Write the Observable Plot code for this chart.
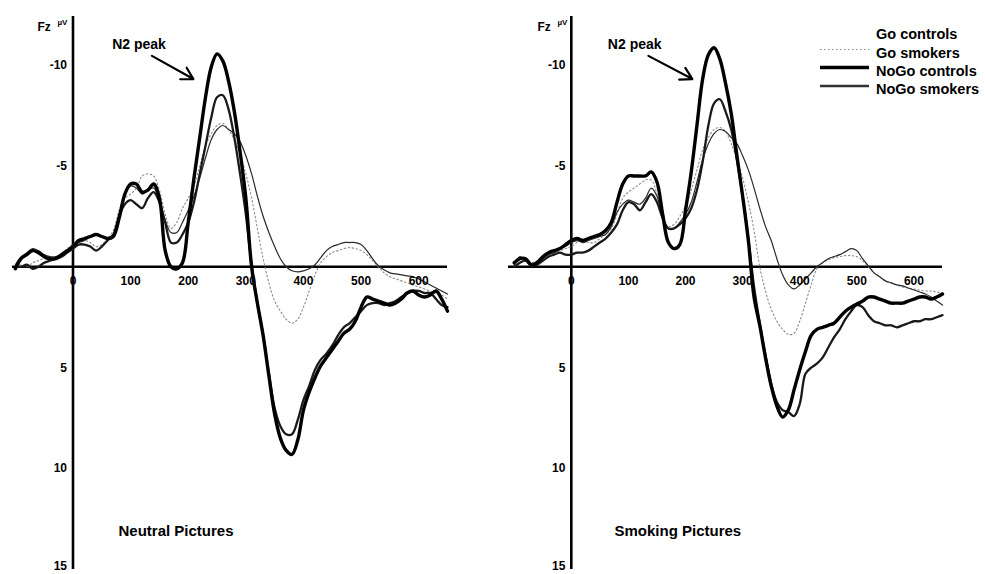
<!DOCTYPE html>
<html>
<head>
<meta charset="utf-8">
<script src="https://cdn.jsdelivr.net/npm/d3@7"></script>
<script src="https://cdn.jsdelivr.net/npm/@observablehq/plot@0.6"></script>
<style>
  html, body { margin: 0; padding: 0; background: #fff; }
  #wrap { position: relative; width: 985px; height: 574px; overflow: hidden; background: #fff; }
  #wrap > .panel { position: absolute; top: 0; }
  #legend { position: absolute; left: 0; top: 0; pointer-events: none; }
</style>
</head>
<body>
<div id="wrap"></div>
<script>
// ---------- data ----------
const seriesNames = ["Go controls", "Go smokers", "NoGo controls", "NoGo smokers"];
const panelTitles = ["Neutral Pictures", "Smoking Pictures"];
const times = [-100,-90,-80,-70,-60,-50,-40,-30,-20,-10,0,10,20,30,40,50,60,70,80,90,100,110,120,130,140,150,160,170,180,190,200,210,220,230,240,250,260,270,280,290,300,310,320,330,340,350,360,370,380,390,400,410,420,430,440,450,460,470,480,490,500,510,520,530,540,550,560,570,580,590,600,610,620,630,640,650];
const xTicks = [100, 200, 300, 400, 500, 600];
const yTicks = [-10, -5, 5, 10, 15];

// Neutral pictures (µV, negative up)
const neutralGoControls = [-0.1,-0.5,-0.7,-0.9,-0.8,-0.6,-0.5,-0.5,-0.6,-0.8,-1.1,-1.2,-1.3,-1.5,-1.6,-1.5,-1.4,-1.6,-2.6,-3.6,-4.0,-3.9,-3.6,-3.8,-3.9,-3.2,-2.3,-1.7,-1.7,-2.2,-2.8,-3.5,-4.4,-5.4,-6.3,-6.8,-7.0,-6.8,-6.6,-6.2,-5.5,-4.6,-3.5,-2.5,-1.7,-1.0,-0.4,0.0,0.2,0.25,0.2,0.1,-0.1,-0.45,-0.8,-1.0,-1.1,-1.2,-1.2,-1.2,-1.1,-0.8,-0.4,-0.05,0.15,0.3,0.35,0.4,0.45,0.5,0.6,0.75,0.9,1.05,1.2,1.35];
const neutralGoSmokers = [0.0,-0.1,0.0,-0.2,-0.3,-0.4,-0.3,-0.4,-0.6,-0.9,-1.1,-1.2,-1.3,-1.2,-1.0,-1.1,-1.4,-1.8,-2.8,-3.4,-3.6,-3.9,-4.5,-4.6,-4.5,-3.8,-2.6,-1.9,-2.2,-2.9,-3.4,-4.0,-5.0,-6.0,-6.6,-7.0,-7.1,-6.8,-6.3,-5.6,-4.6,-3.4,-1.9,-0.4,0.8,1.7,2.2,2.6,2.8,2.6,2.0,1.2,0.4,-0.2,-0.5,-0.7,-0.8,-0.9,-0.95,-0.9,-0.8,-0.6,-0.3,0.0,0.3,0.5,0.6,0.7,0.8,0.9,1.0,1.1,1.2,1.3,1.4,1.6];
const neutralNoGoControls = [0.1,-0.4,-0.6,-0.8,-0.7,-0.5,-0.4,-0.4,-0.6,-0.8,-1.0,-1.3,-1.4,-1.5,-1.6,-1.5,-1.4,-1.5,-2.4,-3.6,-4.1,-4.1,-3.7,-3.8,-4.1,-3.4,-0.8,0.0,0.1,-0.2,-2.2,-4.4,-6.4,-8.4,-9.9,-10.55,-10.2,-9.2,-7.7,-5.7,-3.4,0.0,1.8,3.4,5.4,7.3,8.5,9.1,9.3,8.6,7.1,6.2,5.5,4.9,4.5,4.1,3.7,3.3,3.1,2.7,2.0,1.5,1.6,1.7,1.8,1.9,1.8,1.6,1.3,1.2,1.4,1.5,1.4,1.2,1.6,2.2];
const neutralNoGoSmokers = [0.0,0.0,-0.1,0.1,0.0,-0.2,-0.3,-0.4,-0.5,-0.7,-0.9,-1.1,-1.1,-1.0,-0.8,-1.0,-1.3,-1.6,-2.5,-3.1,-3.3,-3.1,-2.9,-3.4,-3.7,-3.2,-2.2,-1.2,-1.2,-1.6,-2.2,-3.2,-4.6,-6.0,-7.4,-8.4,-8.5,-7.8,-6.4,-4.6,-2.6,-0.1,1.8,3.4,5.3,7.0,7.9,8.3,8.3,7.6,6.6,5.9,5.1,4.6,4.3,3.9,3.4,3.0,2.8,2.5,2.2,1.9,1.8,1.8,1.9,1.8,1.7,1.5,1.3,1.2,1.2,1.3,1.3,1.6,1.9,2.0];

// Smoking pictures
const smokingGoControls = [-0.1,-0.5,-0.3,0.0,-0.2,-0.4,-0.6,-0.7,-0.9,-1.0,-1.2,-1.3,-1.2,-1.3,-1.4,-1.5,-1.6,-2.0,-2.7,-3.1,-3.3,-3.2,-3.1,-3.4,-3.9,-3.5,-2.4,-1.9,-1.9,-2.2,-2.6,-3.2,-4.2,-5.3,-6.1,-6.6,-6.8,-6.7,-6.4,-6.1,-5.5,-4.8,-3.9,-2.9,-2.0,-1.3,-0.4,0.4,0.9,1.1,0.9,0.6,0.3,0.0,-0.2,-0.4,-0.5,-0.6,-0.75,-0.9,-0.8,-0.4,-0.05,0.3,0.5,0.7,0.8,0.9,0.95,1.05,1.15,1.25,1.35,1.5,1.7,1.9];
const smokingGoSmokers = [0.0,-0.2,-0.3,-0.2,-0.3,-0.5,-0.6,-0.7,-0.8,-0.9,-1.0,-1.2,-1.3,-1.2,-1.2,-1.4,-1.6,-1.9,-2.6,-3.4,-3.7,-3.9,-4.1,-4.3,-4.3,-3.6,-2.5,-2.0,-2.1,-2.5,-3.0,-3.8,-4.8,-5.8,-6.4,-6.8,-6.9,-6.7,-6.1,-5.3,-4.4,-3.2,-1.8,0.0,1.2,2.1,2.7,3.1,3.35,3.3,2.7,1.8,0.9,0.1,-0.2,-0.35,-0.45,-0.5,-0.55,-0.55,-0.5,-0.3,0.0,0.3,0.5,0.7,0.8,0.9,1.0,1.05,1.1,1.15,1.2,1.2,1.25,1.3];
const smokingNoGoControls = [-0.2,-0.4,-0.4,-0.1,-0.2,-0.5,-0.7,-0.8,-0.9,-1.1,-1.3,-1.4,-1.3,-1.4,-1.5,-1.6,-1.8,-2.2,-3.2,-4.1,-4.5,-4.5,-4.5,-4.5,-4.7,-4.2,-2.6,-1.2,-0.9,-1.1,-2.8,-4.7,-7.0,-9.3,-10.5,-10.85,-10.3,-9.1,-7.6,-5.5,-3.5,-1.3,1.5,2.9,4.5,5.9,6.9,7.45,7.1,6.1,5.1,4.2,3.4,3.1,3.0,2.9,2.8,2.5,2.2,2.0,1.85,1.7,1.5,1.5,1.6,1.7,1.8,1.8,1.8,1.7,1.6,1.5,1.5,1.6,1.5,1.35];
const smokingNoGoSmokers = [0.0,-0.2,-0.3,-0.1,-0.1,-0.3,-0.5,-0.6,-0.7,-0.6,-0.6,-0.7,-0.7,-0.8,-1.0,-1.2,-1.4,-1.7,-2.1,-2.8,-3.2,-3.1,-2.8,-3.2,-3.6,-3.2,-2.4,-1.9,-1.9,-2.1,-2.4,-2.9,-3.8,-5.2,-7.0,-8.1,-8.3,-7.7,-6.8,-5.3,-3.5,-1.4,1.0,2.8,4.4,5.8,6.7,7.1,7.2,7.4,6.8,5.3,5.0,4.8,4.5,4.0,3.5,3.1,2.6,2.2,1.9,2.0,2.4,2.7,2.8,2.9,2.9,3.0,2.9,2.8,2.7,2.7,2.6,2.6,2.5,2.4];

// annotation anchor (data units: ms, µV)
const n2ArrowFrom = [[137, -10.45], [135, -10.45]];
const n2ArrowTo = [[209, -9.3], [212, -9.3]];
const n2LabelAt = [[68, -11.0], [64, -11.0]];

// ---------- build ----------
const panelSeries = [
  [neutralGoControls, neutralGoSmokers, neutralNoGoControls, neutralNoGoSmokers],
  [smokingGoControls, smokingGoSmokers, smokingNoGoControls, smokingNoGoSmokers]
];
function rows(panel) {
  const out = [];
  panelSeries[panel].forEach((vals, si) => {
    vals.forEach((v, i) => out.push({t: times[i], v, series: seriesNames[si]}));
  });
  return out;
}
const styles = {
  "Go smokers":   {stroke: "#8a8a8a", strokeWidth: 1.1, strokeDasharray: "1.5,2.5"},
  "Go controls":  {stroke: "#2a2a2a", strokeWidth: 1.2},
  "NoGo smokers": {stroke: "#1a1a1a", strokeWidth: 2.3},
  "NoGo controls":{stroke: "#000", strokeWidth: 3.4}
};
const drawOrder = ["Go smokers", "Go controls", "NoGo smokers", "NoGo controls"];
const FONT = "'Liberation Sans', Arial, Helvetica, sans-serif";
const Y0 = -12.4, Y1 = 15;

function panel(p) {
  const data = rows(p);
  const xDom = p === 0 ? [-105, 650] : [-110, 650];
  const ml = p === 0 ? 12 : 16;
  const mr = p === 0 ? 45 : 43;
  const w = p === 0 ? 492 : 493;
  const marks = [
    Plot.ruleY([0], {x1: xDom[0], x2: xDom[1], stroke: "#000", strokeWidth: 2.6}),
    Plot.ruleX([0], {y1: Y0, y2: Y1, stroke: "#000", strokeWidth: 2.6}),
  ];
  for (const s of drawOrder) {
    marks.push(Plot.line(data.filter(d => d.series === s), {x: "t", y: "v", curve: "catmull-rom", ...styles[s]}));
  }
  marks.push(
    Plot.text(yTicks.filter(d => d < 15), {x: 0, y: d => d, text: d => String(d), dx: -6, textAnchor: "end", fontSize: 12, fontWeight: "bold"}),
    Plot.text(yTicks.filter(d => d >= 15), {x: 0, y: d => d, text: d => String(d), dx: -6, dy: -3, textAnchor: "end", fontSize: 12, fontWeight: "bold"}),
    Plot.text(xTicks, {x: d => d, y: 0, text: d => String(d), dy: 14, fontSize: 12, fontWeight: "bold"}),
    Plot.text([0], {x: 0, y: 0, text: d => String(d), dy: 14, fontSize: 12, fontWeight: "bold"}),
    Plot.text(["Fz"], {frameAnchor: "top-left", dx: p === 0 ? 25 : 29, dy: 6, textAnchor: "start", fontSize: 12, fontWeight: "bold"}),
    Plot.text(["µV"], {frameAnchor: "top-left", dx: p === 0 ? 45 : 49, dy: 3, textAnchor: "start", fontSize: 8, fontWeight: "bold"}),
    Plot.text([panelTitles[p]], {frameAnchor: "top-left", dx: 106, dy: 509, textAnchor: "start", fontSize: 15, fontWeight: "bold"}),
    Plot.text(["N2 peak"], {x: n2LabelAt[p][0], y: n2LabelAt[p][1], textAnchor: "start", fontSize: 14, fontWeight: "bold"}),
    Plot.arrow([0], {x1: n2ArrowFrom[p][0], y1: n2ArrowFrom[p][1], x2: n2ArrowTo[p][0], y2: n2ArrowTo[p][1], stroke: "#000", strokeWidth: 2.2, headLength: 9, bend: 0})
  );
  const svg = Plot.plot({
    width: w, height: 574,
    marginLeft: ml, marginRight: mr, marginTop: 16, marginBottom: 5,
    x: {domain: xDom, axis: null},
    y: {domain: [Y0, Y1], reverse: true, axis: null},
    style: {fontFamily: FONT, background: "#fff", color: "#000", overflow: "visible"},
    marks
  });
  svg.classList.add("panel");
  svg.style.left = (p === 0 ? 0 : 492) + "px";
  return svg;
}

const wrap = document.getElementById("wrap");
wrap.appendChild(panel(0));
wrap.appendChild(panel(1));

// legend (top right)
const leg = d3.create("svg").attr("id", "legend").attr("width", 985).attr("height", 120)
  .style("font-family", FONT);
const legRowY = [34, 52.5, 70.5, 89];
seriesNames.forEach((name, i) => {
  const st = styles[name];
  if (name !== "Go controls") {
    leg.append("line").attr("x1", 820).attr("x2", 869).attr("y1", legRowY[i] - 3).attr("y2", legRowY[i] - 3)
      .attr("stroke", name === "NoGo smokers" ? "#333" : st.stroke)
      .attr("stroke-width", st.strokeWidth)
      .attr("stroke-dasharray", st.strokeDasharray || null);
  }
  leg.append("text").attr("x", 876).attr("y", legRowY[i]).attr("dy", "0.35em")
    .attr("font-size", 14.5).attr("font-weight", "bold").text(name);
});
wrap.appendChild(leg.node());
</script>
</body>
</html>
